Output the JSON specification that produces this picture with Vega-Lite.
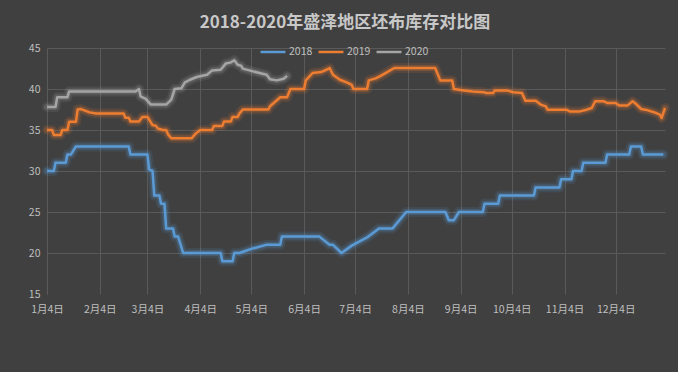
{
  "$schema": "https://vega.github.io/schema/vega-lite/v6.json",
  "width": 618,
  "height": 246,
  "autosize": "none",
  "padding": {"left": 47, "top": 48, "right": 13, "bottom": 78},
  "background": "#404040",
  "title": {
    "text": "2018-2020年盛泽地区坯布库存对比图",
    "font": "Noto Sans CJK SC",
    "fontSize": 17,
    "fontWeight": "bold",
    "color": "#c8c8c8",
    "anchor": "middle",
    "dx": -11,
    "dy": 4,
    "offset": 10
  },
  "config": {
    "view": {"stroke": null},
    "font": "Noto Sans CJK SC"
  },
  "data": {
    "values": [
      {"series": "2018", "date": "2019/01/04", "value": 30},
      {"series": "2018", "date": "2019/01/08", "value": 30},
      {"series": "2018", "date": "2019/01/09", "value": 31},
      {"series": "2018", "date": "2019/01/15", "value": 31},
      {"series": "2018", "date": "2019/01/16", "value": 32},
      {"series": "2018", "date": "2019/01/18", "value": 32},
      {"series": "2018", "date": "2019/01/21", "value": 33},
      {"series": "2018", "date": "2019/02/21", "value": 33},
      {"series": "2018", "date": "2019/02/22", "value": 32},
      {"series": "2018", "date": "2019/03/04", "value": 32},
      {"series": "2018", "date": "2019/03/05", "value": 30.2},
      {"series": "2018", "date": "2019/03/07", "value": 30},
      {"series": "2018", "date": "2019/03/08", "value": 27},
      {"series": "2018", "date": "2019/03/11", "value": 27},
      {"series": "2018", "date": "2019/03/12", "value": 26},
      {"series": "2018", "date": "2019/03/14", "value": 26},
      {"series": "2018", "date": "2019/03/15", "value": 23},
      {"series": "2018", "date": "2019/03/19", "value": 23},
      {"series": "2018", "date": "2019/03/20", "value": 22},
      {"series": "2018", "date": "2019/03/22", "value": 22},
      {"series": "2018", "date": "2019/03/25", "value": 20},
      {"series": "2018", "date": "2019/04/16", "value": 20},
      {"series": "2018", "date": "2019/04/17", "value": 19},
      {"series": "2018", "date": "2019/04/23", "value": 19},
      {"series": "2018", "date": "2019/04/24", "value": 20},
      {"series": "2018", "date": "2019/04/27", "value": 20},
      {"series": "2018", "date": "2019/05/04", "value": 20.5},
      {"series": "2018", "date": "2019/05/13", "value": 21},
      {"series": "2018", "date": "2019/05/21", "value": 21},
      {"series": "2018", "date": "2019/05/22", "value": 22},
      {"series": "2018", "date": "2019/06/13", "value": 22},
      {"series": "2018", "date": "2019/06/19", "value": 21},
      {"series": "2018", "date": "2019/06/21", "value": 21},
      {"series": "2018", "date": "2019/06/26", "value": 20},
      {"series": "2018", "date": "2019/07/02", "value": 20.9},
      {"series": "2018", "date": "2019/07/11", "value": 21.9},
      {"series": "2018", "date": "2019/07/18", "value": 23},
      {"series": "2018", "date": "2019/07/26", "value": 23},
      {"series": "2018", "date": "2019/08/03", "value": 25},
      {"series": "2018", "date": "2019/08/26", "value": 25},
      {"series": "2018", "date": "2019/08/28", "value": 24},
      {"series": "2018", "date": "2019/08/31", "value": 24},
      {"series": "2018", "date": "2019/09/03", "value": 25},
      {"series": "2018", "date": "2019/09/17", "value": 25},
      {"series": "2018", "date": "2019/09/18", "value": 26},
      {"series": "2018", "date": "2019/09/26", "value": 26},
      {"series": "2018", "date": "2019/09/27", "value": 27},
      {"series": "2018", "date": "2019/10/17", "value": 27},
      {"series": "2018", "date": "2019/10/18", "value": 28},
      {"series": "2018", "date": "2019/11/01", "value": 28},
      {"series": "2018", "date": "2019/11/02", "value": 29},
      {"series": "2018", "date": "2019/11/08", "value": 29},
      {"series": "2018", "date": "2019/11/09", "value": 30},
      {"series": "2018", "date": "2019/11/14", "value": 30},
      {"series": "2018", "date": "2019/11/15", "value": 31},
      {"series": "2018", "date": "2019/11/28", "value": 31},
      {"series": "2018", "date": "2019/11/29", "value": 32},
      {"series": "2018", "date": "2019/12/12", "value": 32},
      {"series": "2018", "date": "2019/12/13", "value": 33},
      {"series": "2018", "date": "2019/12/19", "value": 33},
      {"series": "2018", "date": "2019/12/20", "value": 32},
      {"series": "2018", "date": "2020/01/01", "value": 32},

      {"series": "2019", "date": "2019/01/04", "value": 35.0},
      {"series": "2019", "date": "2019/01/07", "value": 35.0},
      {"series": "2019", "date": "2019/01/08", "value": 34.4},
      {"series": "2019", "date": "2019/01/12", "value": 34.4},
      {"series": "2019", "date": "2019/01/13", "value": 35.0},
      {"series": "2019", "date": "2019/01/16", "value": 35.0},
      {"series": "2019", "date": "2019/01/17", "value": 36.0},
      {"series": "2019", "date": "2019/01/21", "value": 36.0},
      {"series": "2019", "date": "2019/01/22", "value": 37.5},
      {"series": "2019", "date": "2019/01/24", "value": 37.55},
      {"series": "2019", "date": "2019/01/29", "value": 37.15},
      {"series": "2019", "date": "2019/02/02", "value": 37.0},
      {"series": "2019", "date": "2019/02/18", "value": 37.0},
      {"series": "2019", "date": "2019/02/19", "value": 36.5},
      {"series": "2019", "date": "2019/02/21", "value": 36.5},
      {"series": "2019", "date": "2019/02/22", "value": 36.05},
      {"series": "2019", "date": "2019/02/27", "value": 36.05},
      {"series": "2019", "date": "2019/03/01", "value": 36.6},
      {"series": "2019", "date": "2019/03/04", "value": 36.6},
      {"series": "2019", "date": "2019/03/07", "value": 35.6},
      {"series": "2019", "date": "2019/03/09", "value": 35.5},
      {"series": "2019", "date": "2019/03/10", "value": 35.2},
      {"series": "2019", "date": "2019/03/13", "value": 35.0},
      {"series": "2019", "date": "2019/03/15", "value": 35.0},
      {"series": "2019", "date": "2019/03/16", "value": 34.5},
      {"series": "2019", "date": "2019/03/18", "value": 34.0},
      {"series": "2019", "date": "2019/03/30", "value": 34.0},
      {"series": "2019", "date": "2019/04/01", "value": 34.5},
      {"series": "2019", "date": "2019/04/04", "value": 35.0},
      {"series": "2019", "date": "2019/04/11", "value": 35.0},
      {"series": "2019", "date": "2019/04/12", "value": 35.5},
      {"series": "2019", "date": "2019/04/17", "value": 35.5},
      {"series": "2019", "date": "2019/04/18", "value": 36.05},
      {"series": "2019", "date": "2019/04/22", "value": 36.05},
      {"series": "2019", "date": "2019/04/23", "value": 36.6},
      {"series": "2019", "date": "2019/04/26", "value": 36.6},
      {"series": "2019", "date": "2019/04/27", "value": 37.0},
      {"series": "2019", "date": "2019/04/29", "value": 37.5},
      {"series": "2019", "date": "2019/05/14", "value": 37.5},
      {"series": "2019", "date": "2019/05/15", "value": 37.9},
      {"series": "2019", "date": "2019/05/21", "value": 39.0},
      {"series": "2019", "date": "2019/05/25", "value": 39.0},
      {"series": "2019", "date": "2019/05/27", "value": 40.0},
      {"series": "2019", "date": "2019/06/04", "value": 40.0},
      {"series": "2019", "date": "2019/06/05", "value": 41.05},
      {"series": "2019", "date": "2019/06/09", "value": 41.95},
      {"series": "2019", "date": "2019/06/14", "value": 42.07},
      {"series": "2019", "date": "2019/06/18", "value": 42.44},
      {"series": "2019", "date": "2019/06/19", "value": 42.56},
      {"series": "2019", "date": "2019/06/21", "value": 41.74},
      {"series": "2019", "date": "2019/06/25", "value": 41.13},
      {"series": "2019", "date": "2019/06/29", "value": 40.8},
      {"series": "2019", "date": "2019/07/02", "value": 40.5},
      {"series": "2019", "date": "2019/07/03", "value": 40.0},
      {"series": "2019", "date": "2019/07/11", "value": 40.0},
      {"series": "2019", "date": "2019/07/12", "value": 41.05},
      {"series": "2019", "date": "2019/07/16", "value": 41.3},
      {"series": "2019", "date": "2019/07/19", "value": 41.6},
      {"series": "2019", "date": "2019/07/27", "value": 42.56},
      {"series": "2019", "date": "2019/08/20", "value": 42.56},
      {"series": "2019", "date": "2019/08/23", "value": 41.05},
      {"series": "2019", "date": "2019/08/30", "value": 41.05},
      {"series": "2019", "date": "2019/08/31", "value": 40.0},
      {"series": "2019", "date": "2019/09/06", "value": 39.83},
      {"series": "2019", "date": "2019/09/11", "value": 39.7},
      {"series": "2019", "date": "2019/09/18", "value": 39.6},
      {"series": "2019", "date": "2019/09/19", "value": 39.5},
      {"series": "2019", "date": "2019/09/23", "value": 39.5},
      {"series": "2019", "date": "2019/09/24", "value": 39.83},
      {"series": "2019", "date": "2019/10/01", "value": 39.83},
      {"series": "2019", "date": "2019/10/05", "value": 39.6},
      {"series": "2019", "date": "2019/10/10", "value": 39.5},
      {"series": "2019", "date": "2019/10/12", "value": 38.57},
      {"series": "2019", "date": "2019/10/18", "value": 38.57},
      {"series": "2019", "date": "2019/10/21", "value": 38.1},
      {"series": "2019", "date": "2019/10/24", "value": 37.88},
      {"series": "2019", "date": "2019/10/25", "value": 37.48},
      {"series": "2019", "date": "2019/11/05", "value": 37.48},
      {"series": "2019", "date": "2019/11/07", "value": 37.27},
      {"series": "2019", "date": "2019/11/13", "value": 37.27},
      {"series": "2019", "date": "2019/11/17", "value": 37.48},
      {"series": "2019", "date": "2019/11/20", "value": 37.68},
      {"series": "2019", "date": "2019/11/22", "value": 38.5},
      {"series": "2019", "date": "2019/11/27", "value": 38.5},
      {"series": "2019", "date": "2019/11/29", "value": 38.3},
      {"series": "2019", "date": "2019/12/04", "value": 38.3},
      {"series": "2019", "date": "2019/12/06", "value": 38.0},
      {"series": "2019", "date": "2019/12/11", "value": 38.0},
      {"series": "2019", "date": "2019/12/14", "value": 38.5},
      {"series": "2019", "date": "2019/12/16", "value": 38.17},
      {"series": "2019", "date": "2019/12/19", "value": 37.56},
      {"series": "2019", "date": "2019/12/23", "value": 37.4},
      {"series": "2019", "date": "2019/12/26", "value": 37.2},
      {"series": "2019", "date": "2019/12/30", "value": 36.87},
      {"series": "2019", "date": "2019/12/31", "value": 36.46},
      {"series": "2019", "date": "2020/01/02", "value": 37.68},

      {"series": "2020", "date": "2019/01/04", "value": 37.8},
      {"series": "2020", "date": "2019/01/09", "value": 37.8},
      {"series": "2020", "date": "2019/01/10", "value": 39.0},
      {"series": "2020", "date": "2019/01/16", "value": 39.0},
      {"series": "2020", "date": "2019/01/17", "value": 39.7},
      {"series": "2020", "date": "2019/02/25", "value": 39.7},
      {"series": "2020", "date": "2019/02/27", "value": 40.0},
      {"series": "2020", "date": "2019/02/28", "value": 39.1},
      {"series": "2020", "date": "2019/03/03", "value": 38.8},
      {"series": "2020", "date": "2019/03/06", "value": 38.1},
      {"series": "2020", "date": "2019/03/15", "value": 38.1},
      {"series": "2020", "date": "2019/03/18", "value": 38.7},
      {"series": "2020", "date": "2019/03/20", "value": 40.0},
      {"series": "2020", "date": "2019/03/24", "value": 40.1},
      {"series": "2020", "date": "2019/03/26", "value": 40.8},
      {"series": "2020", "date": "2019/03/29", "value": 41.13},
      {"series": "2020", "date": "2019/04/02", "value": 41.46},
      {"series": "2020", "date": "2019/04/08", "value": 41.74},
      {"series": "2020", "date": "2019/04/11", "value": 42.27},
      {"series": "2020", "date": "2019/04/16", "value": 42.35},
      {"series": "2020", "date": "2019/04/19", "value": 43.1},
      {"series": "2020", "date": "2019/04/22", "value": 43.25},
      {"series": "2020", "date": "2019/04/24", "value": 43.5},
      {"series": "2020", "date": "2019/04/26", "value": 42.96},
      {"series": "2020", "date": "2019/04/28", "value": 42.84},
      {"series": "2020", "date": "2019/04/29", "value": 42.48},
      {"series": "2020", "date": "2019/05/05", "value": 42.15},
      {"series": "2020", "date": "2019/05/13", "value": 41.74},
      {"series": "2020", "date": "2019/05/15", "value": 41.2},
      {"series": "2020", "date": "2019/05/19", "value": 41.05},
      {"series": "2020", "date": "2019/05/23", "value": 41.25},
      {"series": "2020", "date": "2019/05/25", "value": 41.6}
    ]
  },
  "encoding": {
    "x": {
      "field": "date",
      "type": "temporal",
      "scale": {
        "domain": [{"year": 2019, "month": 1, "date": 4}, {"year": 2020, "month": 1, "date": 2}]
      },
      "axis": {
        "title": null,
        "values": [
          {"year": 2019, "month": 1, "date": 4},
          {"year": 2019, "month": 2, "date": 4},
          {"year": 2019, "month": 3, "date": 4},
          {"year": 2019, "month": 4, "date": 4},
          {"year": 2019, "month": 5, "date": 4},
          {"year": 2019, "month": 6, "date": 4},
          {"year": 2019, "month": 7, "date": 4},
          {"year": 2019, "month": 8, "date": 4},
          {"year": 2019, "month": 9, "date": 4},
          {"year": 2019, "month": 10, "date": 4},
          {"year": 2019, "month": 11, "date": 4},
          {"year": 2019, "month": 12, "date": 4}
        ],
        "format": "%-m月%-d日",
        "labelAngle": 0,
        "labelFlush": false,
        "labelOverlap": false,
        "labelFont": "Noto Sans CJK SC",
        "labelFontSize": 10.5,
        "labelColor": "#bfbfbf",
        "labelPadding": 10,
        "domain": false,
        "ticks": false,
        "grid": true,
        "gridColor": "#5a5a5a",
        "gridWidth": 1
      }
    },
    "y": {
      "field": "value",
      "type": "quantitative",
      "scale": {"domain": [15, 45], "nice": false, "zero": false},
      "axis": {
        "title": null,
        "values": [15, 20, 25, 30, 35, 40, 45],
        "labelFont": "Noto Sans CJK SC",
        "labelFontSize": 10.5,
        "labelColor": "#bfbfbf",
        "labelPadding": 7,
        "labelFlush": false,
        "domain": false,
        "ticks": false,
        "grid": true,
        "gridColor": "#5a5a5a",
        "gridWidth": 1,
        "gridOpacity": {"condition": {"test": "datum.value === 15", "value": 0}, "value": 1}
      }
    },
    "color": {
      "field": "series",
      "type": "nominal",
      "scale": {"domain": ["2018", "2019", "2020"], "range": ["#5b9bd5", "#ed7d31", "#a5a5a5"]},
      "legend": {
        "title": null,
        "orient": "none",
        "legendX": 212,
        "legendY": -10,
        "direction": "horizontal",
        "symbolType": "stroke",
        "symbolSize": 620,
        "symbolStrokeWidth": 2.5,
        "symbolOpacity": 1,
        "labelFont": "Noto Sans CJK SC",
        "labelFontSize": 10.5,
        "labelColor": "#bfbfbf",
        "labelOffset": 2,
        "columnPadding": 0,
        "gridAlign": "none",
        "padding": 0
      }
    }
  },
  "layer": [
    {"mark": {"type": "line", "strokeWidth": 10, "opacity": 0.12, "strokeJoin": "round", "strokeCap": "round"}},
    {"mark": {"type": "line", "strokeWidth": 6, "opacity": 0.22, "strokeJoin": "round", "strokeCap": "round"}},
    {"mark": {"type": "line", "strokeWidth": 2.5, "strokeJoin": "round"}}
  ]
}
